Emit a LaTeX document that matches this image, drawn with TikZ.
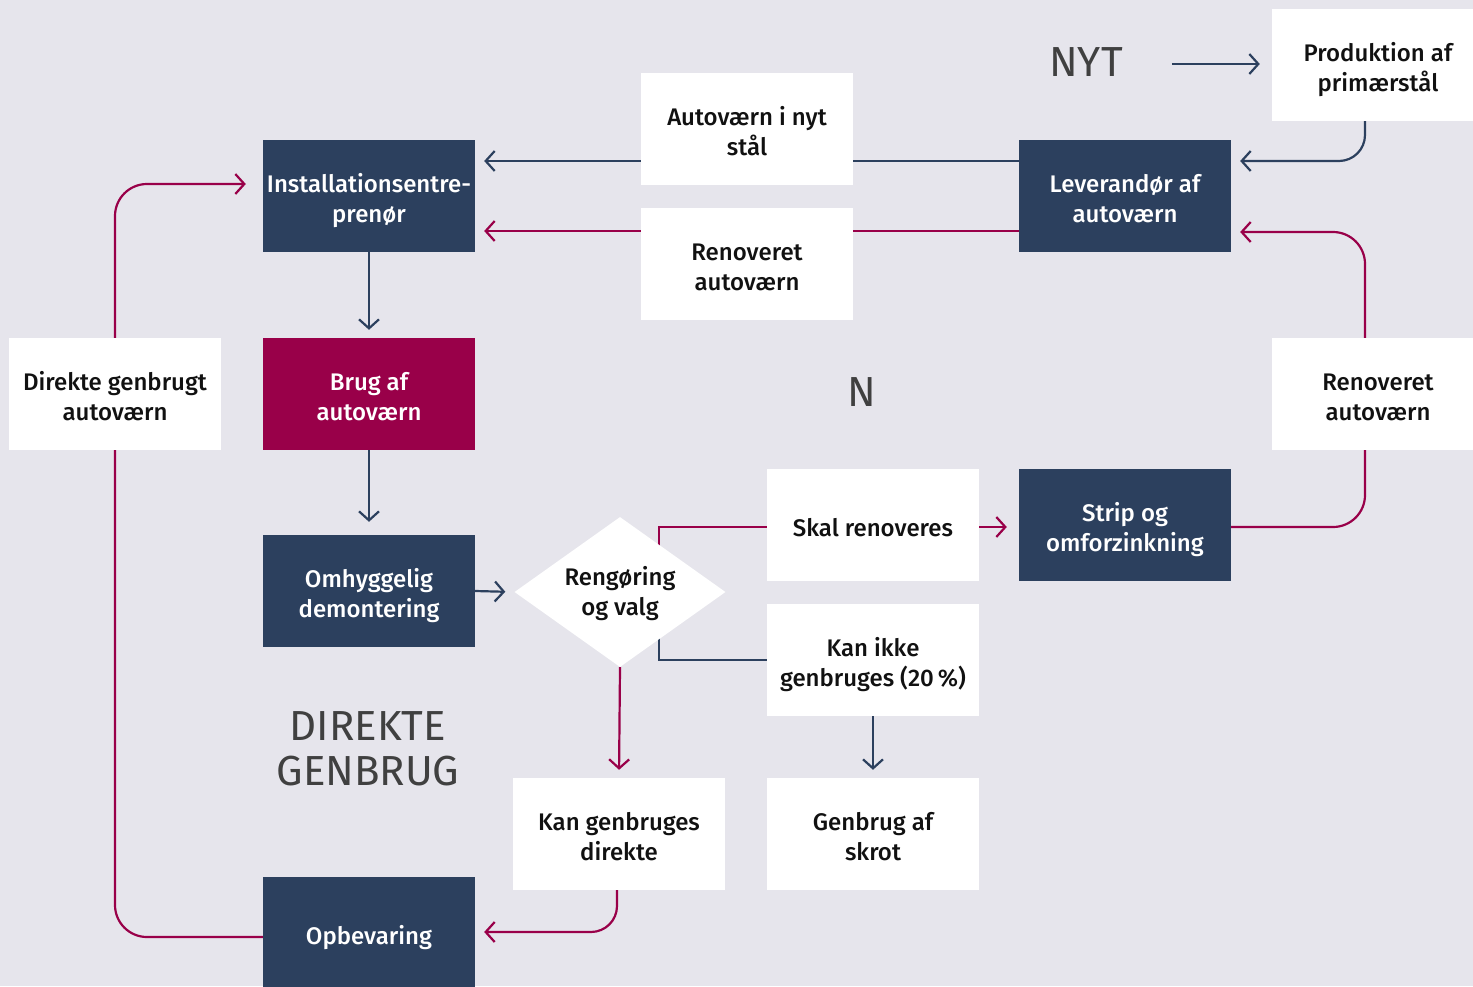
\documentclass[tikz,border=0pt]{standalone}
\usepackage{fontspec}
\setmainfont{Fira Sans}[BoldFont={Fira Sans Medium}]
\usetikzlibrary{arrows.meta,calc,shapes.geometric}
\definecolor{bgc}{HTML}{E6E5EC}
\definecolor{navy}{HTML}{2C405E}
\definecolor{mag}{HTML}{990049}
\definecolor{gtext}{HTML}{404040}
\definecolor{btext}{HTML}{111111}
\pgfdeclarelayer{bglayer}
\pgfdeclarelayer{lines}
\pgfsetlayers{bglayer,lines,main}
\newcommand\bl[1]{\raisebox{0pt}[\dimexpr\height+11pt\relax][\depth]{\begin{tabular}{@{}c@{}}#1\end{tabular}}}
\newcommand\dl[1]{\makebox[0pt]{\smash{\raisebox{-9pt}{\begin{tabular}{@{}c@{}}#1\end{tabular}}}}}
\tikzset{
  box/.style={rectangle, minimum width=212pt, minimum height=112pt, inner sep=0pt, align=center,
    font=\bfseries\fontsize{24}{30}\selectfont},
  wbox/.style={box, fill=white, text=btext},
  nbox/.style={box, fill=navy, text=white},
  mbox/.style={box, fill=mag, text=white},
  dbox/.style={diamond, fill=white, minimum width=211pt, minimum height=150pt, inner sep=0pt,
    text=btext, font=\bfseries\fontsize{24}{30}\selectfont},
  big/.style={font=\fontsize{42}{45}\selectfont, text=gtext, align=center, inner sep=0pt},
  con/.style={line width=2.2pt, -{Straight Barb[length=9pt,width=20pt,line width=2.2pt]}},
  nv/.style={con, draw=navy},
  mg/.style={con, draw=mag},
}
\begin{document}
\begin{tikzpicture}[x=1pt,y=-1pt]
\clip (0,0) rectangle (1473,986);
\useasboundingbox (0,0) rectangle (1473,986);
\begin{pgfonlayer}{bglayer}
\fill[bgc] (0,0) rectangle (1473,986);
\end{pgfonlayer}

% nodes
\node[wbox] (prod) at (1378,65) {\bl{Produktion af\\primærstål}};
\node[big] (nyt) at (1086,62) {NYT};
\node[wbox] (nytstal) at (747,129) {\bl{Autoværn i nyt\\stål}};
\node[nbox] (inst) at (369,196) {\bl{Installationsentre-\\prenør}};
\node[nbox] (lev) at (1125,196) {\bl{Leverandør af\\autoværn}};
\node[wbox] (renov) at (747,264) {\bl{Renoveret\\autoværn}};
\node[wbox] (direkte) at (115,394) {\bl{Direkte genbrugt\\autoværn}};
\node[mbox] (brug) at (369,394) {\bl{Brug af\\autoværn}};
\node[wbox] (renov2) at (1378,394) {\bl{Renoveret\\autoværn}};
\node[big] (n) at (862,392) {N};
\node[wbox] (skal) at (873,525) {\bl{Skal renoveres}};
\node[nbox] (strip) at (1125,525) {\bl{Strip og\\omforzinkning}};
\node[nbox] (omh) at (369,591) {\bl{Omhyggelig\\demontering}};
\node[dbox] (dia) at (620,592) {\dl{Rengøring\\og valg}};
\node[wbox] (kanikke) at (873,660) {\bl{Kan ikke\\genbruges (20\,\%)}};
\node[big] (dg) at (368,749) {DIREKTE\\GENBRUG};
\node[wbox] (kangen) at (619,834) {\bl{Kan genbruges\\direkte}};
\node[wbox] (skrot) at (873,834) {\bl{Genbrug af\\skrot}};
\node[nbox] (opbev) at (369,933) {\bl{Opbevaring}};

% connectors
\begin{pgfonlayer}{lines}
\draw[nv, shorten <=49pt, shorten >=12pt] (nyt.east |- prod.west) ++(0,-1) -- ($(prod.west)+(0,-1)$);
\draw[nv, rounded corners=26pt] ($(prod.south)+(-13,0)$) |- ($(lev.east)+(9,-35)$);
\draw[nv] ($(lev.west)+(0,-35)$) -- ($(inst.east)+(9,-35)$);
\draw[mg] ($(lev.west)+(0,35)$) -- ($(inst.east)+(9,35)$);
\draw[nv, shorten >=8pt] (inst.south) -- (brug.north);
\draw[nv, shorten >=13pt] (brug.south) -- (omh.north);
\draw[nv, shorten >=9pt] (omh.east) -- (dia.west);
\draw[mg, shorten >=12pt] ($(dia.center)+(39,0)$) |- ($(strip.west)+(0,2)$);
\draw[nv, -] ($(dia.center)+(39,0)$) |- (kanikke.west);
\draw[nv, shorten >=8pt] (kanikke.south) -- (skrot.north);
\draw[mg, shorten >=8pt] (dia.south) -- (kangen.north);
\draw[mg, rounded corners=26pt] ($(kangen.south)+(-2,0)$) |- ($(opbev.east)+(9,-1)$);
\draw[mg, rounded corners=32pt] ($(opbev.west)+(0,4)$) -| (direkte.north) |- ($(inst.west)+(-17,-12)$);
\draw[mg, rounded corners=32pt] ($(strip.east)+(0,2)$) -| ($(renov2.south)+(-13,0)$) |- ($(lev.east)+(9,36)$);
\end{pgfonlayer}
\end{tikzpicture}
\end{document}
